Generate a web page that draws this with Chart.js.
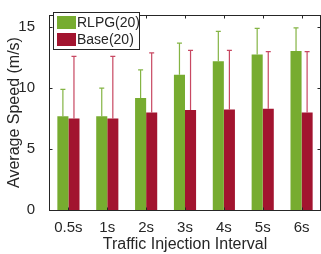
<!DOCTYPE html>
<html>
<head>
<meta charset="utf-8">
<script src="https://cdn.jsdelivr.net/npm/chart.js@4"></script>
<style>
  html,body{margin:0;padding:0;background:#fff;}
  #wrap{width:321px;height:254px;position:relative;}
</style>
</head>
<body>
<div id="wrap"><canvas id="c"></canvas></div>
<script>
// ---- data ----
const categories = ['0.5s','1s','2s','3s','4s','5s','6s'];
const rlpg = [7.7, 7.7, 9.2, 11.1, 12.2, 12.75, 13.05];
const base = [7.5, 7.5, 8.0, 8.2, 8.25, 8.3, 8.0];
const rlpgErr = [2.2, 2.3, 2.3, 2.6, 2.45, 2.15, 1.9];
const baseErr = [5.1, 5.1, 4.9, 4.9, 4.85, 4.7, 5.0];
const yTicks = [0, 5, 10, 15];

const GREEN = '#77AC30', RED = '#A2142F';
const FONT = '"Liberation Sans", Arial, sans-serif';
const INK = '#262626';

// error bars (upper whisker only, like the figure)
const errPlugin = {
  id: 'errbars',
  afterDatasetsDraw(chart){
    const ctx = chart.ctx, y = chart.scales.y;
    const errs = [rlpgErr, baseErr];
    const cols = ['rgba(119,172,48,0.9)', 'rgba(190,40,70,0.85)'];
    chart.data.datasets.forEach((ds, di)=>{
      const meta = chart.getDatasetMeta(di);
      meta.data.forEach((bar, i)=>{
        const top = y.getPixelForValue(ds.data[i] + errs[di][i]);
        const from = y.getPixelForValue(ds.data[i]);
        ctx.save();
        ctx.strokeStyle = cols[di];
        ctx.lineWidth = 1.2;
        ctx.beginPath();
        ctx.moveTo(bar.x, from); ctx.lineTo(bar.x, top);
        ctx.moveTo(bar.x-2.5, top); ctx.lineTo(bar.x+2.5, top);
        ctx.stroke();
        ctx.restore();
      });
    });
  }
};

// box, inside ticks and legend
const framePlugin = {
  id: 'frame',
  afterDraw(chart){
    const ctx = chart.ctx, a = chart.chartArea;
    const x = chart.scales.x, y = chart.scales.y;
    ctx.save();
    ctx.strokeStyle = '#262626';
    ctx.lineWidth = 1;
    const L = Math.round(a.left)+0.5, R = Math.round(a.right)-0.5;
    const T = Math.round(a.top)+0.5, B = Math.round(a.bottom)+0.5;
    ctx.strokeRect(L, T, R-L, B-T);
    ctx.beginPath();
    categories.forEach((c, i)=>{
      const px = Math.round(x.getPixelForValue(i))+0.5;
      ctx.moveTo(px, B); ctx.lineTo(px, B-3);
      ctx.moveTo(px, T); ctx.lineTo(px, T+3);
    });
    yTicks.forEach(v=>{
      const py = Math.round(y.getPixelForValue(v))+0.5;
      ctx.moveTo(L, py); ctx.lineTo(L+3, py);
      ctx.moveTo(R, py); ctx.lineTo(R-3, py);
    });
    ctx.stroke();

    // legend
    const lx = 53, ly = 12, lw = 86, lh = 37;
    ctx.fillStyle = '#fff';
    ctx.fillRect(lx, ly, lw, lh);
    ctx.strokeStyle = '#262626';
    ctx.strokeRect(lx+0.5, ly+0.5, lw, lh);
    ctx.font = '14px ' + FONT;
    ctx.textBaseline = 'middle';
    chart.data.datasets.forEach((ds, i)=>{
      const cy = ly + 10.5 + i*17;
      ctx.fillStyle = ds.backgroundColor;
      ctx.fillRect(lx+4, cy-6.5, 19, 13);
      ctx.fillStyle = INK;
      ctx.fillText(ds.label, lx+24, cy+0.5);
    });
    ctx.restore();
  }
};

new Chart(document.getElementById('c'), {
  type: 'bar',
  data: {
    labels: categories,
    datasets: [
      { label: 'RLPG(20)', data: rlpg, backgroundColor: GREEN, borderWidth: 0 },
      { label: 'Base(20)', data: base, backgroundColor: RED, borderWidth: 0 }
    ]
  },
  options: {
    responsive: true,
    maintainAspectRatio: false,
    animation: false,
    layout: { padding: { top: 8, right: 0, left: 0, bottom: 0 } },
    plugins: { legend: { display: false }, tooltip: { enabled: false } },
    datasets: { bar: { categoryPercentage: 0.57, barPercentage: 1.0 } },
    scales: {
      x: {
        grid: { display: false },
        border: { display: false },
        ticks: { color: INK, font: { family: FONT, size: 15 }, padding: 1, maxRotation: 0 },
        title: { display: true, text: 'Traffic Injection Interval', color: INK,
                 font: { family: FONT, size: 16 }, padding: { top: 0, bottom: 0 } },
        afterFit(s){ s.height = 44; }
      },
      y: {
        min: 0, max: 16,
        grid: { display: false },
        border: { display: false },
        afterBuildTicks(s){ s.ticks = yTicks.map(v=>({ value: v })); },
        ticks: { color: INK, font: { family: FONT, size: 15 }, padding: 6 },
        title: { display: true, text: 'Average Speed (m/s)', color: INK,
                 font: { family: FONT, size: 16 }, padding: { top: 5, bottom: 0 } },
        afterFit(s){ s.width = 49; }
      }
    }
  },
  plugins: [errPlugin, framePlugin]
});
</script>
</body>
</html>
